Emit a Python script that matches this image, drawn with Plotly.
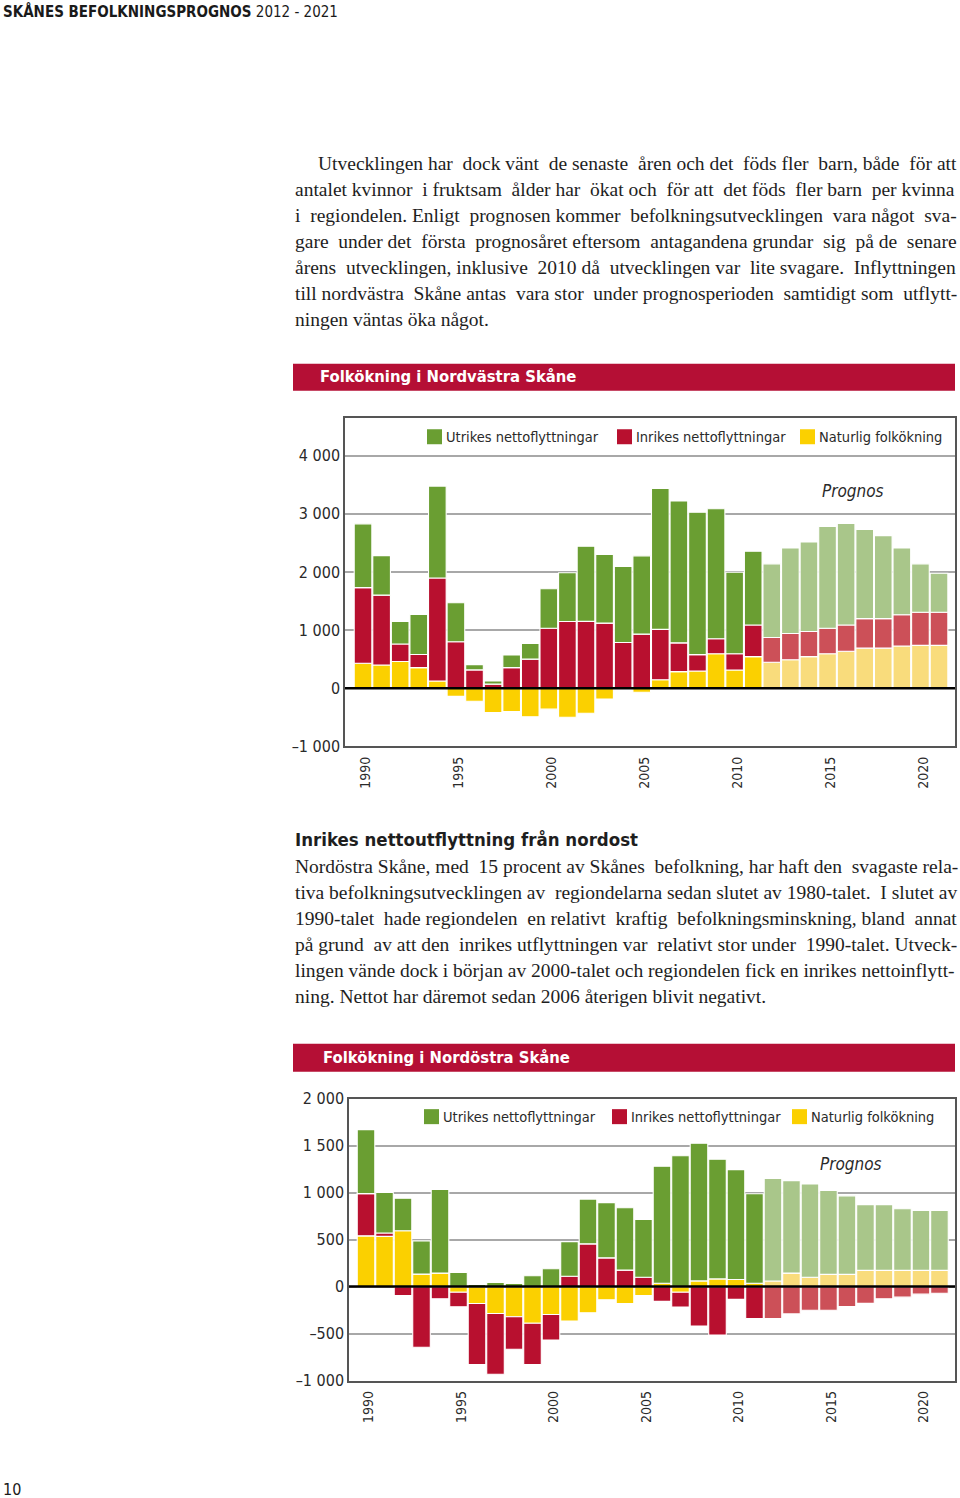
import plotly.graph_objects as go

# ---------------- data ----------------
years = list(range(1990, 2022))
prognos_start = 2012

# Folkökning i Nordvästra Skåne
nv_natur = [430, 400, 460, 355, 125, -140, -225, -420, -400, -490, -360, -500, -430, -185, -20, -70,
            145, 285, 297, 592, 313, 544,
            447, 490, 544, 592, 635, 689, 689, 726, 737, 737]
nv_inrikes = [1300, 1200, 300, 225, 1770, 800, 315, 70, 355, 500, 1030, 1146, 1150, 1120, 785, 930,
              866, 495, 280, 258, 279, 542,
              424, 452, 430, 439, 451, 507, 507, 537, 568, 568]
nv_utrikes = [1096, 680, 390, 690, 1580, 670, 90, 55, 215, 270, 680, 840, 1290, 1180, 1310, 1346,
              2423, 2440, 2450, 2235, 1403, 1269,
              1267, 1469, 1541, 1749, 1746, 1532, 1428, 1148, 833, 672]

# Folkökning i Nordöstra Skåne
no_natur = [540, 535, 595, 133, 144, -60, -180, -286, -320, -390, -296, -367, -278, -140, -180, -94,
            36, -60, 61, 82, 76, 36,
            60, 144, 100, 130, 130, 173, 173, 173, 173, 173]
no_inrikes = [450, 35, -95, -645, -130, -155, -648, -647, -346, -438, -273, 111, 455, 306, 176, 100,
              -157, -156, -419, -516, -136, -341,
              -340, -290, -252, -252, -213, -178, -130, -112, -80, -70]
no_utrikes = [680, 433, 346, 354, 891, 152, 24, 45, 35, 115, 190, 368, 476, 588, 664, 614,
              1244, 1392, 1465, 1274, 1169, 952,
              1090, 984, 993, 894, 836, 699, 699, 656, 638, 638]

series_names = ["Utrikes nettoflyttningar", "Inrikes nettoflyttningar", "Naturlig folkökning"]
x_tick_vals = [1990, 1995, 2000, 2005, 2010, 2015, 2020]
x_tick_text = ["1990", "1995", "2000", "2005", "2010", "2015", "2020"]
nv_y_vals = [-1000, 0, 1000, 2000, 3000, 4000]
nv_y_text = ["–1 000", "0", "1 000", "2 000", "3 000", "4 000"]
no_y_vals = [-1000, -500, 0, 500, 1000, 1500, 2000]
no_y_text = ["–1 000", "–500", "0", "500", "1 000", "1 500", "2 000"]

# ---------------- styles ----------------
W, H = 960, 1504
# the captured page places the figure slightly lower and squeezes it a little vertically;
# layout coordinates below are given in page pixels and converted here
PAGE_OFFSET, PAGE_SCALE = 8.2, 0.9875
SANS = "Liberation Sans Narrow, DejaVu Sans Condensed, Roboto, sans-serif"
SERIF = "Liberation Serif, DejaVu Serif, serif"
DARK = {"utr": "#6a9e32", "inr": "#b8102f", "nat": "#fbd000"}
LIGHT = {"utr": "#a9c68a", "inr": "#cc5058", "nat": "#f9dc7c"}
TITLE_RED = "#b50f35"
TXT = "#2a2a2a"


def px(x):
    return x / W


def py(y):
    yf = (y - PAGE_OFFSET) / PAGE_SCALE
    return min(1.0, max(0.0, 1 - yf / H))


def colors(key):
    return [LIGHT[key] if y >= prognos_start else DARK[key] for y in years]


fig = go.Figure()


def add_chart(natur, inrikes, utrikes, xa, ya):
    # trace order = stacking order (yellow at zero, then red, then green)
    for vals, key, name in [(natur, "nat", series_names[2]),
                            (inrikes, "inr", series_names[1]),
                            (utrikes, "utr", series_names[0])]:
        fig.add_trace(go.Bar(
            x=years, y=vals, name=name, xaxis=xa, yaxis=ya, showlegend=False,
            marker=dict(color=colors(key), line=dict(color="white", width=1.1)),
            hovertemplate="%{x}: %{y}<extra>" + name + "</extra>",
        ))


add_chart(nv_natur, nv_inrikes, nv_utrikes, "x", "y")
add_chart(no_natur, no_inrikes, no_utrikes, "x2", "y2")

axis_common = dict(showline=True, mirror=True, linecolor="#555555", linewidth=1.5)
xfont = dict(family=SANS, size=14, color=TXT)
yfont = dict(family=SANS, size=16, color=TXT)
label_shift = 0.15  # rotated year labels sit slightly right of the bar centre
x_tick_pos = [v + label_shift for v in x_tick_vals]

fig.update_layout(
    width=W, height=H, margin=dict(l=0, r=0, t=0, b=0),
    paper_bgcolor="white", plot_bgcolor="white",
    barmode="relative", bargap=0.05,
    font=dict(family=SANS, color=TXT),
    xaxis=dict(domain=[px(345), px(955)], range=[1989.03, 2021.86], anchor="y",
               tickvals=x_tick_pos, ticktext=x_tick_text, tickangle=-90, ticks="",
               tickfont=xfont, showgrid=False, zeroline=False,
               ticklabelstandoff=3, **axis_common),
    yaxis=dict(domain=[py(745.7), py(417)], range=[-1000, 4650], anchor="x",
               tickvals=nv_y_vals, ticktext=nv_y_text, ticks="",
               tickfont=yfont, showgrid=True,
               gridcolor="#a8a8a8", gridwidth=1.5, zeroline=False, **axis_common),
    xaxis2=dict(domain=[px(349), px(955)], range=[1989.08, 2021.84], anchor="y2",
                tickvals=x_tick_pos, ticktext=x_tick_text, tickangle=-90, ticks="",
                tickfont=xfont, showgrid=False, zeroline=False,
                ticklabelstandoff=3, **axis_common),
    yaxis2=dict(domain=[py(1380), py(1098)], range=[-1000, 2000], anchor="x2",
                tickvals=no_y_vals, ticktext=no_y_text, ticks="",
                tickfont=yfont, showgrid=True,
                gridcolor="#a8a8a8", gridwidth=1.5, zeroline=False, **axis_common),
)

# zero lines drawn over the bars
fig.add_shape(type="line", xref="x domain", yref="y", x0=0, x1=1, y0=0, y1=0,
              line=dict(color="black", width=2.5), layer="above")
fig.add_shape(type="line", xref="x2 domain", yref="y2", x0=0, x1=1, y0=0, y1=0,
              line=dict(color="black", width=2.5), layer="above")

# title bars
for y0, y1 in [(363, 390), (1043, 1071)]:
    fig.add_shape(type="rect", xref="paper", yref="paper", x0=px(293), x1=px(955), y0=py(y1), y1=py(y0),
                  fillcolor=TITLE_RED, line=dict(width=0), layer="below")


def text(x, y, s, size, family=SANS, color=TXT, xanchor="left", yanchor="middle"):
    fig.add_annotation(x=px(x), y=py(y), xref="paper", yref="paper", text=s, showarrow=False,
                       xanchor=xanchor, yanchor=yanchor, align="left",
                       font=dict(family=family, size=size, color=color))


def justify(line, extra):
    """Approximate justified setting: widen `extra` word gaps with a no-break space."""
    words = line.split(" ")
    gaps = len(words) - 1
    if extra <= 0 or gaps <= 0:
        return line
    chosen = {int((k + 0.5) * gaps / extra) for k in range(min(extra, gaps))}
    out = words[0]
    for i, w in enumerate(words[1:]):
        out += (" \u00a0" if i in chosen else " ") + w
    return out


# legends (squares + labels) inside each chart frame
legend_colors = [DARK["utr"], DARK["inr"], DARK["nat"]]
for yc, squares in [(436, [427, 617, 800]), (1116, [424, 612, 792])]:
    for name, col, x0 in zip(series_names, legend_colors, squares):
        fig.add_shape(type="rect", xref="paper", yref="paper", x0=px(x0), x1=px(x0 + 15),
                      y0=py(yc + 7.5), y1=py(yc - 7.5), fillcolor=col, line=dict(width=0))
        text(x0 + 17, yc, name, 14.5)

text(318, 376, "<b>Folkökning i Nordvästra Skåne</b>", 16.5, color="white")
text(321, 1057, "<b>Folkökning i Nordöstra Skåne</b>", 16.5, color="white")
text(853, 490, "<i>Prognos</i>", 17, xanchor="center")
text(851, 1163, "<i>Prognos</i>", 17, xanchor="center")

# page header and number
text(1, 11, "<b>SKÅNES BEFOLKNINGSPROGNOS</b> 2012 - 2021", 15, color="#1a1a1a")
text(1, 1489, "10", 16, color="#1a1a1a")

# body text (extra word-gap counts approximate the justified column)
para1 = [
    "Utvecklingen har dock vänt de senaste åren och det föds fler barn, både för att",
    "antalet kvinnor i fruktsam ålder har ökat och för att det föds fler barn per kvinna",
    "i regiondelen. Enligt prognosen kommer befolkningsutvecklingen vara något sva-",
    "gare under det första prognosåret eftersom antagandena grundar sig på de senare",
    "årens utvecklingen, inklusive 2010 då utvecklingen var lite svagare. Inflyttningen",
    "till nordvästra Skåne antas vara stor under prognosperioden samtidigt som utflytt-",
    "ningen väntas öka något.",
]
para1_extra = [6, 7, 5, 7, 5, 5, 0]
for i, (line, ex) in enumerate(zip(para1, para1_extra)):
    text(316 if i == 0 else 293, 163 + 26 * i, justify(line, ex), 19.5, family=SERIF, color="#1e1e1e")

text(293, 839, "<b>Inrikes nettoutflyttning från nordost</b>", 18.5, color="#1e1e1e")

para2 = [
    "Nordöstra Skåne, med 15 procent av Skånes befolkning, har haft den svagaste rela-",
    "tiva befolkningsutvecklingen av regiondelarna sedan slutet av 1980-talet. I slutet av",
    "1990-talet hade regiondelen en relativt kraftig befolkningsminskning, bland annat",
    "på grund av att den inrikes utflyttningen var relativt stor under 1990-talet. Utveck-",
    "lingen vände dock i början av 2000-talet och regiondelen fick en inrikes nettoinflytt-",
    "ning. Nettot har däremot sedan 2006 återigen blivit negativt.",
]
para2_extra = [3, 2, 5, 4, 0, 0]
for i, (line, ex) in enumerate(zip(para2, para2_extra)):
    text(293, 866 + 26 * i, justify(line, ex), 19.5, family=SERIF, color="#1e1e1e")

# remove the default 8px body margin so the figure fills the window width exactly
fig.write_html("out.html", config={"displayModeBar": False},
               post_script="document.body.style.margin='0';document.body.style.overflow='hidden';")
